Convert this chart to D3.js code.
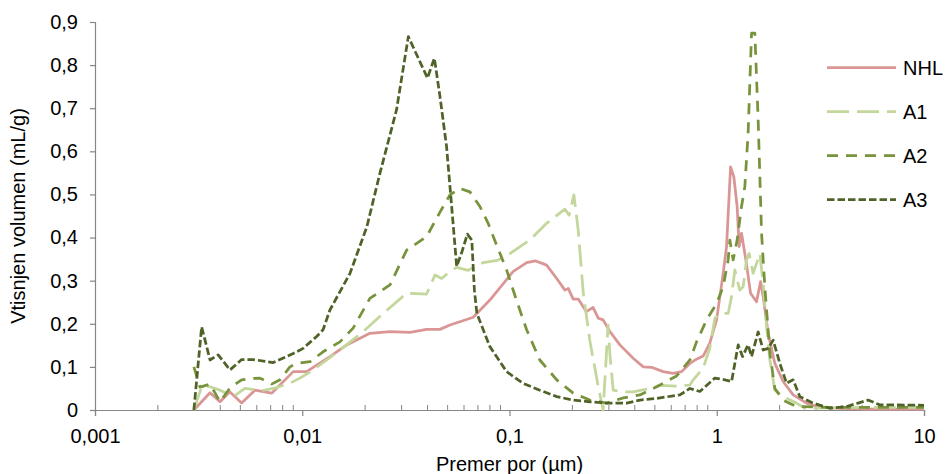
<!DOCTYPE html>
<html>
<head>
<meta charset="utf-8">
<script src="https://cdn.jsdelivr.net/npm/d3@7"></script>
<style>
  body { margin: 0; background: #fff; }
  text { font-family: "Liberation Sans", Arial, sans-serif; }
</style>
</head>
<body>
<div id="chart"></div>
<script>
// pore diameter (µm) and intruded volume (mL/g)
const nhlPore = [0.0030, 0.00359, 0.00401, 0.00448, 0.0051, 0.00591, 0.00712, 0.00905, 0.0105, 0.0136, 0.0164, 0.0212, 0.0265, 0.0331, 0.0398, 0.0462, 0.0516, 0.0621, 0.0668, 0.0804, 0.104, 0.121, 0.133, 0.151, 0.169, 0.185, 0.192, 0.203, 0.215, 0.235, 0.253, 0.268, 0.283, 0.305, 0.341, 0.395, 0.442, 0.485, 0.551, 0.616, 0.677, 0.742, 0.799, 0.860, 0.926, 0.998, 1.074, 1.115, 1.166, 1.209, 1.254, 1.283, 1.317, 1.382, 1.456, 1.556, 1.627, 1.675, 1.770, 1.907, 2.091, 2.337, 2.712, 3.143, 3.925, 5.478, 7.644, 10];
const nhlVol = [0, 0.040, 0.019, 0.042, 0.016, 0.046, 0.039, 0.089, 0.089, 0.124, 0.151, 0.178, 0.182, 0.180, 0.187, 0.187, 0.197, 0.210, 0.215, 0.255, 0.321, 0.342, 0.346, 0.336, 0.305, 0.278, 0.282, 0.257, 0.257, 0.228, 0.238, 0.213, 0.209, 0.182, 0.151, 0.120, 0.100, 0.099, 0.089, 0.085, 0.089, 0.108, 0.118, 0.125, 0.155, 0.209, 0.317, 0.379, 0.564, 0.541, 0.472, 0.379, 0.410, 0.348, 0.271, 0.251, 0.298, 0.263, 0.178, 0.108, 0.066, 0.035, 0.016, 0.006, 0.004, 0.002, 0.002, 0.002];

const a1Pore = [0.0030, 0.00327, 0.00359, 0.00401, 0.00465, 0.00529, 0.00637, 0.00725, 0.00872, 0.00975, 0.0113, 0.0152, 0.0197, 0.0246, 0.0319, 0.0398, 0.0437, 0.0470, 0.0516, 0.0556, 0.0632, 0.0747, 0.0874, 0.100, 0.125, 0.151, 0.185, 0.194, 0.2045, 0.2145, 0.227, 0.244, 0.268, 0.283, 0.299, 0.305, 0.3165, 0.354, 0.395, 0.476, 0.532, 0.664, 0.742, 0.770, 0.860, 0.926, 0.979, 1.035, 1.135, 1.179, 1.223, 1.254, 1.292, 1.341, 1.392, 1.433, 1.498, 1.556, 1.614, 1.675, 1.739, 1.804, 1.907, 2.091, 2.427, 2.661, 3.513, 5.478, 10];
const a1Vol = [0, 0.054, 0.054, 0.046, 0.031, 0.050, 0.045, 0.050, 0.062, 0.074, 0.093, 0.139, 0.182, 0.224, 0.271, 0.269, 0.313, 0.305, 0.321, 0.331, 0.324, 0.342, 0.347, 0.362, 0.394, 0.433, 0.466, 0.452, 0.499, 0.418, 0.271, 0.162, 0.054, 0, 0.197, 0.131, 0.046, 0.042, 0.042, 0.050, 0.057, 0.055, 0.058, 0.070, 0.097, 0.144, 0.213, 0.224, 0.224, 0.263, 0.325, 0.302, 0.278, 0.286, 0.348, 0.363, 0.317, 0.340, 0.363, 0.294, 0.193, 0.116, 0.046, 0.031, 0.016, 0.004, 0.005, 0.006, 0.006];

const a2Pore = [0.0030, 0.00321, 0.00359, 0.00401, 0.00448, 0.0051, 0.00572, 0.00625, 0.00712, 0.00781, 0.00872, 0.0094, 0.0109, 0.0126, 0.0152, 0.0176, 0.0212, 0.0265, 0.0319, 0.0398, 0.0462, 0.0516, 0.0576, 0.0644, 0.0720, 0.0789, 0.0866, 0.0968, 0.108, 0.121, 0.140, 0.169, 0.203, 0.244, 0.294, 0.354, 0.426, 0.513, 0.640, 0.742, 0.799, 0.893, 0.998, 1.074, 1.135, 1.157, 1.200, 1.254, 1.317, 1.366, 1.417, 1.472, 1.527, 1.584, 1.645, 1.706, 1.804, 1.907, 2.091, 2.427, 3.5, 5.5, 10];
const a2Vol = [0.100, 0.053, 0.060, 0.019, 0.051, 0.070, 0.073, 0.074, 0.060, 0.070, 0.100, 0.108, 0.112, 0.135, 0.158, 0.190, 0.259, 0.290, 0.371, 0.402, 0.459, 0.499, 0.514, 0.506, 0.472, 0.433, 0.383, 0.325, 0.255, 0.186, 0.116, 0.070, 0.039, 0.023, 0.016, 0.028, 0.035, 0.054, 0.079, 0.116, 0.158, 0.209, 0.247, 0.286, 0.348, 0.394, 0.348, 0.394, 0.472, 0.518, 0.642, 0.874, 0.874, 0.673, 0.410, 0.286, 0.132, 0.050, 0.023, 0.008, 0.006, 0.006, 0.006];

const a3Pore = [0.0030, 0.00327, 0.00359, 0.00393, 0.00448, 0.0051, 0.0058, 0.00725, 0.00905, 0.0101, 0.0117, 0.0126, 0.0136, 0.0170, 0.0205, 0.0237, 0.0285, 0.0325, 0.0402, 0.0434, 0.0462, 0.0497, 0.0526, 0.0556, 0.0587, 0.0626, 0.0658, 0.0677, 0.0696, 0.0804, 0.0968, 0.116, 0.140, 0.169, 0.203, 0.244, 0.294, 0.367, 0.426, 0.513, 0.664, 0.742, 0.829, 0.979, 1.094, 1.179, 1.269, 1.332, 1.417, 1.472, 1.584, 1.675, 1.770, 1.871, 2.016, 2.172, 2.337, 2.517, 2.918, 3.513, 4.227, 5.374, 6.121, 10];
const a3Vol = [0, 0.193, 0.116, 0.128, 0.093, 0.117, 0.117, 0.110, 0.131, 0.143, 0.170, 0.186, 0.232, 0.317, 0.425, 0.549, 0.696, 0.866, 0.770, 0.816, 0.727, 0.611, 0.472, 0.333, 0.364, 0.408, 0.394, 0.278, 0.224, 0.147, 0.089, 0.062, 0.046, 0.031, 0.023, 0.019, 0.016, 0.016, 0.023, 0.027, 0.035, 0.050, 0.043, 0.074, 0.070, 0.066, 0.151, 0.124, 0.151, 0.124, 0.181, 0.139, 0.143, 0.162, 0.108, 0.062, 0.070, 0.031, 0.016, 0.004, 0.008, 0.023, 0.012, 0.011];

const seriesNames = ["NHL", "A1", "A2", "A3"];
const xMajorTicks = [0.001, 0.01, 0.1, 1, 10];
const yTicks = [0, 0.1, 0.2, 0.3, 0.4, 0.5, 0.6, 0.7, 0.8, 0.9];

const width = 946, height = 474;
const margin = { top: 22, right: 22, bottom: 64, left: 95 };

const series = [
  { name: seriesNames[0], pore: nhlPore, vol: nhlVol, color: "#d99694", dash: null },
  { name: seriesNames[1], pore: a1Pore, vol: a1Vol, color: "#c3d69b", dash: "22,8" },
  { name: seriesNames[2], pore: a2Pore, vol: a2Vol, color: "#77933c", dash: "11,8" },
  { name: seriesNames[3], pore: a3Pore, vol: a3Vol, color: "#4f6228", dash: "7.5,3" }
];

const locale = d3.formatLocale({ decimal: ",", thousands: ".", grouping: [3], currency: ["", " €"] });
const fmt = locale.format("~g");

const svg = d3.select("#chart").append("svg")
  .attr("width", width)
  .attr("height", height);

const x = d3.scaleLog().domain([0.001, 10]).range([margin.left, width - margin.right]);
const y = d3.scaleLinear().domain([0, 0.9]).range([height - margin.bottom, margin.top]);

// minor ticks 2..9 in each decade, drawn inside the plot
const xMinorTicks = [];
xMajorTicks.slice(0, -1).forEach(function (d) {
  for (let k = 2; k <= 9; k++) xMinorTicks.push(d * k);
});

const axisColor = "#868686";

svg.append("g")
  .attr("transform", `translate(0, ${y(0)})`)
  .call(d3.axisTop(x).tickValues(xMinorTicks).tickSize(5).tickFormat(""))
  .call(g => g.select(".domain").remove())
  .call(g => g.selectAll("line").attr("stroke", axisColor));

const xAxis = svg.append("g")
  .attr("transform", `translate(0, ${y(0)})`)
  .call(d3.axisBottom(x).tickValues(xMajorTicks).tickSize(6).tickPadding(13).tickFormat(fmt));

const yAxis = svg.append("g")
  .attr("transform", `translate(${margin.left}, 0)`)
  .call(d3.axisLeft(y).tickValues(yTicks).tickSize(5).tickPadding(12).tickFormat(fmt));

[xAxis, yAxis].forEach(function (g) {
  g.select(".domain").attr("stroke", axisColor).attr("stroke-width", 1.2);
  g.selectAll("line").attr("stroke", axisColor).attr("stroke-width", 1.2);
  g.selectAll("text")
    .attr("fill", "#000")
    .style("font-size", "20px")
    .style("font-family", '"Liberation Sans", Arial, sans-serif');
});

// axis titles
svg.append("text")
  .attr("x", (x.range()[0] + x.range()[1]) / 2)
  .attr("y", 471)
  .attr("text-anchor", "middle")
  .style("font-size", "20px")
  .text("Premer por (µm)");

svg.append("text")
  .attr("transform", `translate(24.5, ${(y(0) + y(0.9)) / 2}) rotate(-90)`)
  .attr("text-anchor", "middle")
  .style("font-size", "20px")
  .text("Vtisnjen volumen (mL/g)");

// lines
const line = d3.line()
  .x(d => x(d[0]))
  .y(d => y(d[1]));

series.forEach(function (s) {
  const pts = s.pore.map((p, i) => [p, s.vol[i]]);
  svg.append("path")
    .datum(pts)
    .attr("fill", "none")
    .attr("stroke", s.color)
    .attr("stroke-width", 2.75)
    .attr("stroke-linejoin", "round")
    .attr("stroke-dasharray", s.dash)
    .attr("d", line);
});

// legend
const legend = svg.append("g");
series.forEach(function (s, i) {
  const ly = 67.5 + i * 44;
  legend.append("line")
    .attr("x1", 827).attr("x2", 896)
    .attr("y1", ly).attr("y2", ly)
    .attr("stroke", s.color)
    .attr("stroke-width", 2.75)
    .attr("stroke-dasharray", s.dash);
  legend.append("text")
    .attr("x", 903)
    .attr("y", ly + 7)
    .style("font-size", "20px")
    .text(s.name);
});
</script>
</body>
</html>
